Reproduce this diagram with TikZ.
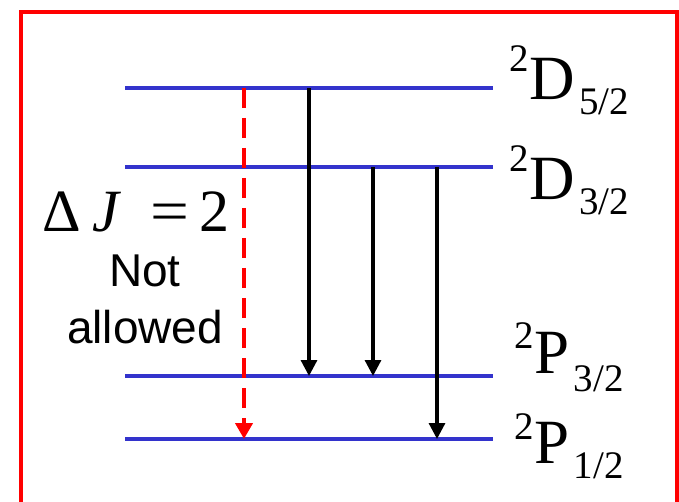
\documentclass[tikz,border=0pt]{standalone}
\usepackage{fontspec}
\setmainfont{Liberation Serif}
\newfontfamily\notefont{Liberation Sans}
\usepackage{xcolor}
\usepackage{tikz}
\usetikzlibrary{arrows.meta,positioning,calc}
\definecolor{levelblue}{HTML}{3333CC}
\definecolor{framered}{HTML}{FF0000}
\newcommand{\termlabel}[5]{%
  \raisebox{#4pt}{\fontsize{39}{39}\selectfont #1}\hspace{1pt}#2\hspace{4pt}%
  \raisebox{-#5pt}{\fontsize{39}{39}\selectfont #3}}

\begin{document}
\begin{tikzpicture}[x=1pt,y=-1pt]
    \tikzset{
      level/.style={draw=levelblue,line width=3.5pt},
      term/.style={anchor=base west,inner sep=0pt,font=\fontsize{63}{63}\selectfont},
      trans/.style={-{Triangle[length=16pt,width=16pt]},draw=black,line width=3.2pt},
      forbidden/.style={-{Triangle[length=16pt,width=17pt]},draw=framered,line width=4.5pt,dash pattern=on 20pt off 10pt},
      note/.style={align=center,inner sep=0pt,font=\notefont\fontsize{46}{57}\selectfont}
    }
    \useasboundingbox (0,0) rectangle (679,502);
    \draw[framered,line width=4pt] (21,502) -- (21,12) -- (677,12) -- (677,502);
    % levels
    \coordinate (d52l) at (125,88);  \coordinate (d52r) at (493,88);
    \coordinate (d32l) at (125,167); \coordinate (d32r) at (493,167);
    \coordinate (p32l) at (125,376); \coordinate (p32r) at (493,376);
    \coordinate (p12l) at (125,439); \coordinate (p12r) at (493,439);
    \draw[level] (d52l) -- (d52r);
    \draw[level] (d32l) -- (d32r);
    \draw[level] (p32l) -- (p32r);
    \draw[level] (p12l) -- (p12r);
    \node[term] (d52) at (509,100) {\termlabel{2}{D}{5/2}{28}{15}};
    \node[term] (d32) at (509,200) {\termlabel{2}{D}{3/2}{28}{15}};
    \node[term] (p32) at (514,373) {\termlabel{2}{P}{3/2}{25}{18}};
    \node[term] (p12) at (514,463) {\termlabel{2}{P}{1/2}{24}{15}};
    % transitions
    \coordinate (colr) at (244,0);
    \coordinate (cola) at (309,0);
    \coordinate (colb) at (373,0);
    \coordinate (colc) at (437,0);
    \draw[forbidden] (colr |- d52l) -- (colr |- p12l);
    \draw[trans] (cola |- d52l) -- (cola |- p32l);
    \draw[trans] (colb |- d32l) -- (colb |- p32l);
    \draw[trans] (colc |- d32l) -- (colc |- p12l);
    \node[anchor=base west,inner sep=0pt,font=\fontsize{60}{60}\selectfont] (rule) at (42,232)
      {Δ\hspace{12pt}\textit{J}\hspace{29pt}\scalebox{1.15}[1]{=}\hspace{10pt}2};
    \node[note,anchor=north] (notallowed) at (145,255) {Not\\allowed};
\end{tikzpicture}
\end{document}
